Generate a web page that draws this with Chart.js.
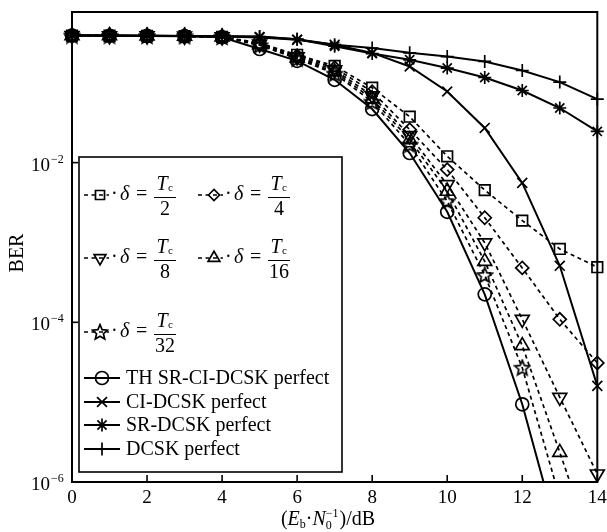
<!DOCTYPE html>
<html>
<head>
<meta charset="utf-8">
<script src="https://cdn.jsdelivr.net/npm/chart.js@4.4.1/dist/chart.umd.min.js"></script>
<style>
  html, body { margin: 0; padding: 0; background: #fff; }
  #wrap { width: 607px; height: 532px; position: relative; }
</style>
</head>
<body>
<div id="wrap"><canvas id="ber-canvas"></canvas></div>
<script>
// Eb/N0 in dB
var SNR = [0, 1, 2, 3, 4, 5, 6, 7, 8, 9, 10, 11, 12, 13, 14];

// BER per scheme
var BER_T2  = [0.39, 0.388, 0.386, 0.383, 0.375, 0.316, 0.224, 0.163, 0.0866, 0.0376, 0.012, 0.00453, 0.00188, 8.3e-4, 4.9e-4];
var BER_T4  = [0.39, 0.388, 0.386, 0.383, 0.375, 0.31, 0.218, 0.154, 0.0772, 0.0259, 0.00818, 0.00204, 4.8e-4, 1.09e-4, 3.1e-5];
var BER_T8  = [0.39, 0.388, 0.386, 0.383, 0.375, 0.305, 0.211, 0.145, 0.0688, 0.0218, 0.0053, 9.9e-4, 1.09e-4, 1.15e-5, 1.26e-6];
var BER_T16 = [0.39, 0.388, 0.386, 0.383, 0.375, 0.30, 0.205, 0.137, 0.063, 0.0194, 0.00438, 5.8e-4, 5.1e-5, 2.35e-6, 1e-7];
var BER_T32 = [0.39, 0.388, 0.386, 0.383, 0.375, 0.295, 0.20, 0.13, 0.0579, 0.0168, 0.00328, 3.9e-4, 2.7e-5, 6.3e-7];
var BER_TH  = [0.39, 0.388, 0.386, 0.383, 0.372, 0.265, 0.188, 0.109, 0.0469, 0.0132, 0.00242, 2.24e-4, 9.4e-6, 1.8e-7];
var BER_CI  = [0.39, 0.39, 0.388, 0.385, 0.38, 0.37, 0.345, 0.30, 0.237, 0.16, 0.0778, 0.0272, 0.00557, 5.1e-4, 1.6e-5];
var BER_SR  = [0.39, 0.39, 0.388, 0.386, 0.382, 0.377, 0.35, 0.287, 0.232, 0.194, 0.153, 0.1165, 0.080, 0.0483, 0.0246];
var BER_DCSK = [0.39, 0.39, 0.388, 0.386, 0.383, 0.379, 0.352, 0.30, 0.272, 0.237, 0.213, 0.185, 0.1425, 0.102, 0.0625];

var DELTA_DEN = ["2", "4", "8", "16", "32"];
var SOLID_LABELS = ["TH SR-CI-DCSK perfect", "CI-DCSK perfect", "SR-DCSK perfect", "DCSK perfect"];

var X_TICKS = [0, 2, 4, 6, 8, 10, 12, 14];
var Y_TICKS = [1e-2, 1e-4, 1e-6];
var Y_EXP = ["\u22122", "\u22124", "\u22126"];

var SERIF = '"Liberation Serif", "Times New Roman", serif';
var INK = "#000";

// open five-point star marker
function makeStar() {
  var c = document.createElement("canvas");
  c.width = 18; c.height = 18;
  var g = c.getContext("2d");
  g.strokeStyle = INK;
  g.lineWidth = 1.7;
  g.lineJoin = "miter";
  g.beginPath();
  for (var i = 0; i < 10; i++) {
    var r = i % 2 === 0 ? 8 : 3.6;
    var a = -Math.PI / 2 + i * Math.PI / 5;
    var px = 9 + r * Math.cos(a), py = 9.6 + r * Math.sin(a);
    if (i === 0) g.moveTo(px, py); else g.lineTo(px, py);
  }
  g.closePath();
  g.stroke();
  return c;
}
var STAR = makeStar();

function pts(ys) {
  return ys.map(function (v, i) { return { x: SNR[i], y: v }; });
}

function series(label, ys, style, radius, dashed, rotation) {
  return {
    label: label,
    data: pts(ys),
    borderColor: INK,
    backgroundColor: "rgba(0,0,0,0)",
    borderWidth: dashed ? 1.7 : 2,
    borderDash: dashed ? [4, 3.5] : [],
    pointStyle: style,
    pointRadius: radius,
    pointRotation: rotation || 0,
    pointBorderColor: INK,
    pointBackgroundColor: "rgba(0,0,0,0)",
    pointBorderWidth: 1.7,
    tension: 0,
    clip: { left: 9, top: 9, right: 9, bottom: 0 }
  };
}

var datasets = [
  series("T/2", BER_T2, "rect", 7.5, true),
  series("T/4", BER_T4, "rectRot", 6.5, true),
  series("T/8", BER_T8, "triangle", 8, true, 180),
  series("T/16", BER_T16, "triangle", 8, true),
  series("T/32", BER_T32, STAR, 8, true),
  series(SOLID_LABELS[0], BER_TH, "circle", 6.5, false),
  series(SOLID_LABELS[1], BER_CI, "crossRot", 7, false),
  series(SOLID_LABELS[2], BER_SR, "star", 6.5, false),
  series(SOLID_LABELS[3], BER_DCSK, "cross", 6.5, false)
];

function font(size, italic) {
  return (italic ? "italic " : "") + size + "px " + SERIF;
}

function marker(ctx, d, x, y, r) {
  ctx.save();
  ctx.strokeStyle = INK;
  ctx.fillStyle = "rgba(0,0,0,0)";
  ctx.lineWidth = 1.7;
  ctx.setLineDash([]);
  Chart.helpers.drawPoint(ctx, {
    pointStyle: d.pointStyle, radius: r || d.pointRadius,
    rotation: d.pointRotation, borderWidth: 1.7
  }, x, y);
  ctx.restore();
}

function legendLine(ctx, d, x0, x1, y) {
  ctx.save();
  ctx.strokeStyle = INK;
  ctx.lineWidth = d.borderWidth;
  ctx.setLineDash(d.borderDash);
  ctx.beginPath();
  ctx.moveTo(x0, y);
  ctx.lineTo(x1, y);
  ctx.stroke();
  ctx.restore();
}

// "·δ = Tc / den" drawn to the right of a legend marker
function deltaText(ctx, mx, y, den) {
  ctx.fillStyle = INK;
  ctx.textBaseline = "middle";
  ctx.textAlign = "left";
  ctx.font = font(20);
  ctx.fillText("\u00b7", mx + 11, y);
  ctx.font = font(20, true);
  ctx.fillText("\u03b4", mx + 20, y);
  ctx.font = font(20);
  ctx.fillText("=", mx + 36, y);
  var cx = mx + 65;
  ctx.textAlign = "center";
  ctx.font = font(20, true);
  ctx.fillText("T", cx - 3, y - 10);
  ctx.font = font(11);
  ctx.textAlign = "left";
  ctx.fillText("c", cx + 3, y - 7);
  ctx.textAlign = "center";
  ctx.font = font(20);
  ctx.fillText(den, cx, y + 15);
  ctx.lineWidth = 1;
  ctx.beginPath();
  ctx.moveTo(cx - 11, y + 2.5);
  ctx.lineTo(cx + 11, y + 2.5);
  ctx.stroke();
}

var decorPlugin = {
  id: "decor",
  afterDraw: function (chart) {
    var ctx = chart.ctx;
    var a = chart.chartArea;
    var xs = chart.scales.x, ys = chart.scales.y;
    ctx.save();
    ctx.strokeStyle = INK;
    ctx.fillStyle = INK;

    // frame
    ctx.lineWidth = 2;
    ctx.strokeRect(a.left, a.top, a.right - a.left, a.bottom - a.top);

    // inward ticks and labels
    ctx.lineWidth = 1.6;
    ctx.font = font(19);
    ctx.textAlign = "center";
    ctx.textBaseline = "middle";
    X_TICKS.forEach(function (t) {
      var px = xs.getPixelForValue(t);
      ctx.beginPath();
      ctx.moveTo(px, a.bottom);
      ctx.lineTo(px, a.bottom - 7);
      ctx.stroke();
      ctx.fillText(String(t), px, a.bottom + 16);
    });
    Y_TICKS.forEach(function (t, i) {
      var py = ys.getPixelForValue(t);
      ctx.beginPath();
      ctx.moveTo(a.left, py);
      ctx.lineTo(a.left + 6, py);
      ctx.stroke();
      ctx.font = font(19);
      ctx.textAlign = "right";
      ctx.fillText("10", 50, py + 3);
      ctx.font = font(12);
      ctx.textAlign = "left";
      ctx.fillText(Y_EXP[i], 51, py - 3);
    });

    // axis titles
    ctx.save();
    ctx.translate(18, 253);
    ctx.rotate(-Math.PI / 2);
    ctx.font = font(20);
    ctx.textAlign = "center";
    ctx.fillText("BER", 0, 0);
    ctx.restore();

    var pieces = [
      { t: "(", f: font(20), dy: 0 },
      { t: "E", f: font(20, true), dy: 0 },
      { t: "b", f: font(12), dy: 5 },
      { t: "\u00b7", f: font(20), dy: 0 },
      { t: "N", f: font(20, true), dy: 0 },
      { t: "0", f: font(12), dy: 6, stackWith: "\u22121" },
      { t: ")/dB", f: font(20), dy: 0 }
    ];
    var total = 0;
    pieces.forEach(function (p) {
      ctx.font = p.f;
      p.w = ctx.measureText(p.stackWith ? p.stackWith : p.t).width + (p.stackWith ? 1 : 0);
      total += p.w;
    });
    var x = 328 - total / 2, by = 520;
    ctx.textAlign = "left";
    ctx.textBaseline = "middle";
    pieces.forEach(function (p) {
      ctx.font = p.f;
      ctx.fillText(p.t, x, by + p.dy);
      if (p.stackWith) ctx.fillText(p.stackWith, x, by - 6);
      x += p.w;
    });

    // legend box
    ctx.fillStyle = "#fff";
    ctx.fillRect(79, 157, 263, 315);
    ctx.lineWidth = 1.6;
    ctx.strokeRect(79, 157, 263, 315);

    var ds = chart.data.datasets;
    var deltaPos = [[100, 195], [214, 195], [100, 258], [214, 258], [100, 332]];
    deltaPos.forEach(function (p, i) {
      legendLine(ctx, ds[i], p[0] - 16, p[0] + 9, p[1]);
      marker(ctx, ds[i], p[0], p[1], ds[i].pointRadius * 0.85);
      deltaText(ctx, p[0], p[1], DELTA_DEN[i]);
    });
    var rowY = [378, 402, 425, 449];
    SOLID_LABELS.forEach(function (lab, j) {
      var d = ds[5 + j];
      legendLine(ctx, d, 84, 120, rowY[j]);
      marker(ctx, d, 102, rowY[j]);
      ctx.fillStyle = INK;
      ctx.font = font(20);
      ctx.textAlign = "left";
      ctx.textBaseline = "middle";
      ctx.fillText(lab, 126, rowY[j] + 1);
    });
    ctx.restore();
  }
};

new Chart(document.getElementById("ber-canvas").getContext("2d"), {
  type: "line",
  data: { datasets: datasets },
  plugins: [decorPlugin],
  options: {
    responsive: true,
    maintainAspectRatio: false,
    animation: false,
    devicePixelRatio: 1,
    layout: { padding: { left: 0, top: 12, right: 8, bottom: 0 } },
    plugins: { legend: { display: false }, tooltip: { enabled: false } },
    scales: {
      x: {
        type: "linear", min: 0, max: 14,
        ticks: { display: false }, grid: { display: false }, border: { display: false },
        afterFit: function (s) { s.height = 50; }
      },
      y: {
        type: "logarithmic", min: 1e-6, max: 0.77,
        ticks: { display: false }, grid: { display: false }, border: { display: false },
        afterFit: function (s) { s.width = 72; }
      }
    }
  }
});
</script>
</body>
</html>
